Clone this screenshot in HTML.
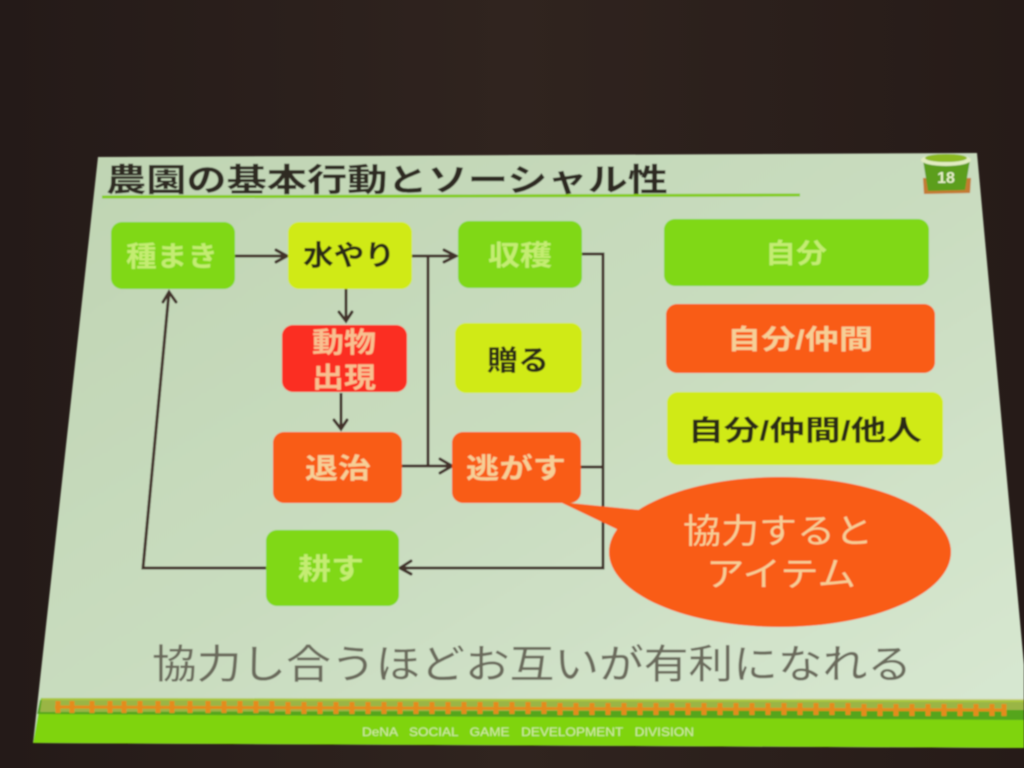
<!DOCTYPE html>
<html lang="ja"><head><meta charset="utf-8"><title>農園の基本行動とソーシャル性</title>
<style>
html,body{margin:0;padding:0;background:#281e1b;width:1024px;height:768px;overflow:hidden}
svg{display:block}
text{font-family:"Liberation Sans","Noto Sans CJK JP",sans-serif;text-anchor:middle;font-weight:700}
.g{fill:#c4ec72}
.o{fill:#f6cf96}
.r{fill:#f8c090}
.d{fill:#2b2a12}
.c{fill:none;stroke:#42302c;stroke-width:3}
.a{fill:none;stroke:#42302c;stroke-width:3;stroke-linecap:round}
</style></head><body>
<svg width="1024" height="768" viewBox="0 0 1024 768" xmlns="http://www.w3.org/2000/svg">
<defs>
<linearGradient id="bg" x1="0" y1="0" x2="1" y2="0"><stop offset="0" stop-color="#241a18"/><stop offset=".5" stop-color="#30241f"/><stop offset="1" stop-color="#261b18"/></linearGradient>
<linearGradient id="sl" x1="0" y1="0" x2="1" y2="1"><stop offset="0" stop-color="#bfd4b2"/><stop offset=".5" stop-color="#c9dcbf"/><stop offset="1" stop-color="#d8e8d2"/></linearGradient>
<filter id="b" x="-5%" y="-5%" width="110%" height="110%"><feGaussianBlur stdDeviation="0.7"/></filter>
</defs>
<rect width="1024" height="768" fill="url(#bg)"/>
<g filter="url(#b)">
<polygon points="98,157 977,153 1024,665 1024,748 33,743" fill="url(#sl)"/>
<!-- footer -->
<polygon points="41,698 1024,700 1024,748 33,743" fill="#7fd40a"/>
<polygon points="40,700 1024,702 1024,720 37,714" fill="#55a51c"/>
<polygon points="42,698 1024,699 1024,710 40,712" fill="#c8c060" opacity=".6"/>
<path d="M55,707 L1005,710" stroke="#e48b1c" stroke-width="3"/>
<path d="M58,701v12M72,701v12M92,701v12M110,701v12M124,701v12M140,701v12M158,701v12M172,701v12M190,701v12M208,701v12M224,701v12M240,701v12M256,701v12M272,701v12M288,702v12M304,702v12M320,702v12M336,702v12M352,702v12M368,702v12M384,702v12M400,702v12M416,702v12M432,702v12M448,702v12M464,702v12M480,702v12M496,702v12M512,702v12M528,702v12M544,702v12M560,703v12M576,703v12M592,703v12M608,703v12M624,703v12M640,703v12M656,703v12M672,703v12M688,703v12M704,703v12M720,703v12M736,703v12M752,703v12M768,703v12M784,703v12M800,703v12M816,703v12M832,703v12M848,703v12M864,704v12M880,704v12M896,704v12M912,704v12M928,704v12M944,704v12M960,704v12M976,704v12M992,704v12M1004,704v12" stroke="#e48b1c" stroke-width="5"/>
<text x="528" y="736" font-size="12" style="font-weight:400;word-spacing:7px" fill="#d8eaa8" textLength="332" lengthAdjust="spacingAndGlyphs">DeNA SOCIAL GAME DEVELOPMENT DIVISION</text>
<!-- title -->
<text x="387" y="191" font-size="32" fill="#2d2a20" style="font-weight:700" textLength="562" lengthAdjust="spacingAndGlyphs">農園の基本行動とソーシャル性</text>
<path d="M102,197 L800,195" stroke="#84cc16" stroke-width="3"/>
<!-- icon -->
<path d="M923,178 L924,194 L970,193 L971,178 Z" fill="#c47a30"/>
<path d="M923,160 L970,160 L965,190 L928,191 Z" fill="#5c9e1e"/>
<ellipse cx="946" cy="160" rx="25" ry="6" fill="#e2ecc2"/>
<ellipse cx="946" cy="158" rx="21" ry="4" fill="#8cba22"/>
<text x="946" y="183" font-size="16" fill="#e6efc8">18</text>
<!-- connectors -->
<path class="c" d="M235,256H286M411,256H456M346,289V321M341,393V429M402,466H450M428,466V256M581,254H603V568H402M581,467H603M266,568H143L169,292"/>
<path class="a" d="M276,250L287,256L276,262M339,312L346,321L352,312M334,420L341,429L347,420M444,250L456,256L444,262M440,459L452,466L440,473M411,561L400,568L411,574M163,302L169,292L176,302"/>
<!-- boxes -->
<rect x="111" y="222" width="124" height="67" rx="11" fill="#80d818"/>
<rect x="288" y="222" width="124" height="67" rx="11" fill="#d0ea14"/>
<rect x="458" y="221" width="124" height="67" rx="11" fill="#80d818"/>
<rect x="282" y="325" width="125" height="67" rx="11" fill="#fb2f22"/>
<rect x="455" y="323" width="127" height="70" rx="11" fill="#d0ea14"/>
<rect x="273" y="432" width="129" height="71" rx="11" fill="#f95c14"/>
<rect x="452" y="432" width="129" height="71" rx="11" fill="#f95c14"/>
<rect x="266" y="530" width="133" height="76" rx="11" fill="#80d818"/>
<rect x="664" y="219" width="265" height="67" rx="11" fill="#80d818"/>
<rect x="666" y="304" width="269" height="69" rx="11" fill="#f95c14"/>
<rect x="667" y="392" width="276" height="73" rx="11" fill="#d0ea14"/>
<!-- bubble -->
<path d="M560,502 L640,510 L690,500 L650,545 Z" fill="#f95c14"/>
<ellipse cx="780" cy="552" rx="171" ry="75" fill="#f95c14"/>
<!-- labels -->
<text class="g" x="172" y="266" font-size="28" textLength="92" lengthAdjust="spacingAndGlyphs">種まき</text>
<text class="d" x="349" y="265" font-size="28" textLength="92" lengthAdjust="spacingAndGlyphs">水やり</text>
<text class="g" x="520" y="265" font-size="28" textLength="64" lengthAdjust="spacingAndGlyphs">収穫</text>
<text class="r" x="344" y="352" font-size="28" textLength="64" lengthAdjust="spacingAndGlyphs">動物</text>
<text class="r" x="344" y="387" font-size="28" textLength="64" lengthAdjust="spacingAndGlyphs">出現</text>
<text class="d" x="518" y="370" font-size="28" textLength="62" lengthAdjust="spacingAndGlyphs">贈る</text>
<text class="o" x="338" y="478" font-size="28" textLength="66" lengthAdjust="spacingAndGlyphs">退治</text>
<text class="o" x="516" y="478" font-size="28" textLength="100" lengthAdjust="spacingAndGlyphs">逃がす</text>
<text class="g" x="331" y="579" font-size="29" textLength="66" lengthAdjust="spacingAndGlyphs">耕す</text>
<text class="g" x="796" y="263" font-size="27" textLength="62" lengthAdjust="spacingAndGlyphs">自分</text>
<text class="o" x="800" y="349" font-size="27" textLength="146" lengthAdjust="spacingAndGlyphs">自分/仲間</text>
<text class="d" x="805" y="440" font-size="28" textLength="234" lengthAdjust="spacingAndGlyphs">自分/仲間/他人</text>
<text class="o" x="778" y="543" font-size="34" style="font-weight:400" textLength="190" lengthAdjust="spacingAndGlyphs">協力すると</text>
<text class="o" x="781" y="586" font-size="34" style="font-weight:400" textLength="150" lengthAdjust="spacingAndGlyphs">アイテム</text>
<text x="532" y="678" font-size="40" fill="#6a6a5c" style="font-weight:400" textLength="760" lengthAdjust="spacingAndGlyphs">協力し合うほどお互いが有利になれる</text>
</g>
</svg>
</body></html>
